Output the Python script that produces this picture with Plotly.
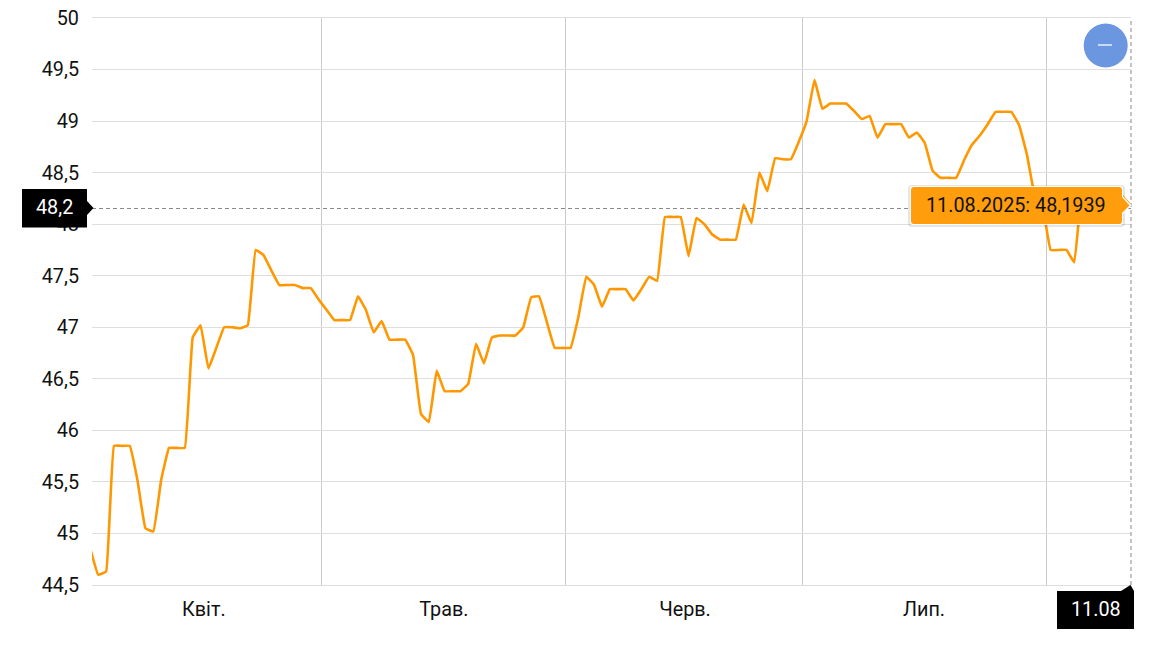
import pandas as pd
import plotly.graph_objects as go

# daily rate, 1 Apr - 11 Aug 2025
dates = pd.date_range("2025-04-01", "2025-08-11", freq="D")
values = [
    44.85, 44.60, 44.63, 45.85, 45.85, 45.85, 45.51, 45.05, 45.02, 45.52,
    45.83, 45.83, 45.83, 46.90, 47.02, 46.60, 46.80, 47.00, 47.00, 46.99,
    47.02, 47.75, 47.70, 47.55, 47.41, 47.41, 47.41, 47.38, 47.38, 47.27,
    47.17, 47.07, 47.07, 47.07, 47.30, 47.17, 46.95, 47.06, 46.88, 46.88,
    46.88, 46.73, 46.16, 46.08, 46.58, 46.38, 46.38, 46.38, 46.45, 46.84,
    46.65, 46.90, 46.92, 46.92, 46.92, 47.00, 47.29, 47.30, 47.05, 46.80,
    46.80, 46.80, 47.10, 47.49, 47.41, 47.20, 47.37, 47.37, 47.37, 47.26,
    47.37, 47.49, 47.45, 48.07, 48.07, 48.07, 47.69, 48.06, 48.00, 47.90,
    47.85, 47.85, 47.85, 48.19, 48.01, 48.50, 48.32, 48.64, 48.63, 48.63,
    48.80, 49.00, 49.40, 49.12, 49.17, 49.17, 49.17, 49.10, 49.02, 49.05,
    48.84, 48.97, 48.97, 48.97, 48.84, 48.89, 48.79, 48.52, 48.45, 48.45,
    48.45, 48.62, 48.77, 48.86, 48.97, 49.09, 49.09, 49.09, 48.96, 48.67,
    48.27, 48.16, 47.75, 47.75, 47.75, 47.63, 48.35, 48.17, 48.28, 48.28,
    48.28, 48.28, 48.1939,
]

y_ticks = [44.5, 45, 45.5, 46, 46.5, 47, 47.5, 48, 48.5, 49, 49.5, 50]
y_labels = ["44,5", "45", "45,5", "46", "46,5", "47", "47,5", "48", "48,5", "49", "49,5", "50"]
month_labels = ["Квіт.", "Трав.", "Черв.", "Лип."]
month_label_pos = ["2025-04-15 10:00", "2025-05-15 22:00", "2025-06-15 13:00", "2025-07-15 22:00"]
month_grid_pos = ["2025-04-30 10:00", "2025-05-31 10:00", "2025-06-30 10:00", "2025-07-31 10:00"]

ORANGE = "#ff9800"
FONT = "Roboto"
FONT_SIZE = 19.8
GRID = "#dedede"

# the page body adds 8px around the figure
BODY = 8
WIDTH, HEIGHT = 1156 - BODY, 647 - BODY

# plot area in page pixels
LEFT, RIGHT, TOP, BOTTOM = 92, 1131, 18, 585


def xp(x):
    return (x - LEFT) / (RIGHT - LEFT)


def yp(y):
    return (BOTTOM - y) / (BOTTOM - TOP)


def poly(points):
    return "M " + " L ".join(f"{xp(x):.5f},{yp(y):.5f}" for x, y in points) + " Z"


def rounded(x0, y0, x1, y1, r):
    a = f"M {xp(x0 + r):.5f},{yp(y0):.5f} L {xp(x1 - r):.5f},{yp(y0):.5f} "
    b = f"Q {xp(x1):.5f},{yp(y0):.5f} {xp(x1):.5f},{yp(y0 + r):.5f} L {xp(x1):.5f},{yp(y1 - r):.5f} "
    c = f"Q {xp(x1):.5f},{yp(y1):.5f} {xp(x1 - r):.5f},{yp(y1):.5f} L {xp(x0 + r):.5f},{yp(y1):.5f} "
    d = f"Q {xp(x0):.5f},{yp(y1):.5f} {xp(x0):.5f},{yp(y1 - r):.5f} L {xp(x0):.5f},{yp(y0 + r):.5f} "
    e = f"Q {xp(x0):.5f},{yp(y0):.5f} {xp(x0 + r):.5f},{yp(y0):.5f} Z"
    return a + b + c + d + e


def paper_shape(**kw):
    return dict(xref="paper", yref="paper", layer="above", **kw)


no_line = dict(width=0)
dash = dict(color="#8a8a8a", width=1, dash="4px,3px")

shapes = [
    # crosshair
    paper_shape(type="line", x0=0, x1=1, y0=yp(208.5), y1=yp(208.5), line=dash),
    paper_shape(type="line", x0=1, x1=1, y0=0, y1=1, line=dash),
    # y cursor label
    paper_shape(type="rect", x0=xp(22), x1=xp(87), y0=yp(227.5), y1=yp(189), fillcolor="black", line=no_line),
    paper_shape(type="path", path=poly([(87, 201), (93.5, 208), (87, 215)]), fillcolor="black", line=no_line),
    # x cursor label
    paper_shape(type="rect", x0=xp(1057), x1=xp(1134), y0=yp(629), y1=yp(591), fillcolor="black", line=no_line),
    paper_shape(type="path", path=poly([(1121, 591), (1130.5, 585), (1134, 591)]), fillcolor="black", line=no_line),
    # tooltip shadow, box, pointer
    paper_shape(type="path", path=rounded(908, 185, 1125, 227, 4), fillcolor="rgba(0,0,0,0.10)", line=no_line),
    paper_shape(type="path", path=rounded(910, 186, 1123, 225, 3), fillcolor="white", line=no_line),
    paper_shape(type="path", path=poly([(1122, 195), (1131.5, 205.5), (1122, 215)]), fillcolor="white", line=no_line),
    paper_shape(type="path", path=rounded(911, 187, 1122, 224, 3), fillcolor="rgba(255,152,0,0.95)", line=no_line),
    paper_shape(type="path", path=poly([(1122, 197), (1129.5, 205.5), (1122, 213)]), fillcolor="rgba(255,152,0,0.95)", line=no_line),
    # collapse button
    paper_shape(type="circle", x0=xp(1083.7), x1=xp(1127.7), y0=yp(67.5), y1=yp(23.5), fillcolor="#6b96e0", line=no_line),
    paper_shape(type="line", x0=xp(1098), x1=xp(1112), y0=yp(45), y1=yp(45), line=dict(color="white", width=1.3)),
]

annotations = [
    dict(x=xp(54), y=yp(207.5), text="48,2", font=dict(color="white")),
    dict(x=xp(1095.5), y=yp(609.5), text="11.08", font=dict(color="white")),
    dict(x=xp(1016), y=yp(205), text="11.08.2025: 48,1939", font=dict(color="#111111")),
]
for a in annotations:
    a.update(xref="paper", yref="paper", showarrow=False, xanchor="center", yanchor="middle")
    a["font"].update(family=FONT, size=FONT_SIZE)

fig = go.Figure()
fig.add_trace(go.Scatter(
    x=dates, y=values, mode="lines",
    line=dict(color=ORANGE, width=2.6, shape="spline", smoothing=0.25),
    hoverinfo="skip", showlegend=False,
))

fig.update_layout(
    width=WIDTH,
    height=HEIGHT,
    margin=dict(l=LEFT - BODY, r=1156 - RIGHT, t=TOP - BODY, b=647 - BOTTOM, pad=0),
    paper_bgcolor="white",
    plot_bgcolor="white",
    font=dict(family=FONT, size=FONT_SIZE, color="#111111"),
    shapes=shapes,
    annotations=annotations,
    xaxis=dict(
        automargin=False,
        range=["2025-04-01 05:00", "2025-08-11 05:00"],
        tickmode="array",
        tickvals=month_label_pos,
        ticktext=month_labels,
        showgrid=False,
        zeroline=False,
        showline=True,
        linecolor=GRID,
        linewidth=1.4,
        mirror=True,
        ticks="",
        ticklabelstandoff=6,
        minor=dict(tickmode="array", tickvals=month_grid_pos, showgrid=True,
                   gridcolor="#cccccc", gridwidth=1.2, ticks=""),
    ),
    yaxis=dict(
        automargin=False,
        range=[44.5, 50],
        tickmode="array",
        tickvals=y_ticks,
        ticktext=y_labels,
        ticklabeloverflow="allow",
        showgrid=True,
        gridcolor=GRID,
        gridwidth=1.4,
        zeroline=False,
        showline=False,
        ticks="",
        ticklabelstandoff=12,
    ),
)

fig.write_html("out.html")
